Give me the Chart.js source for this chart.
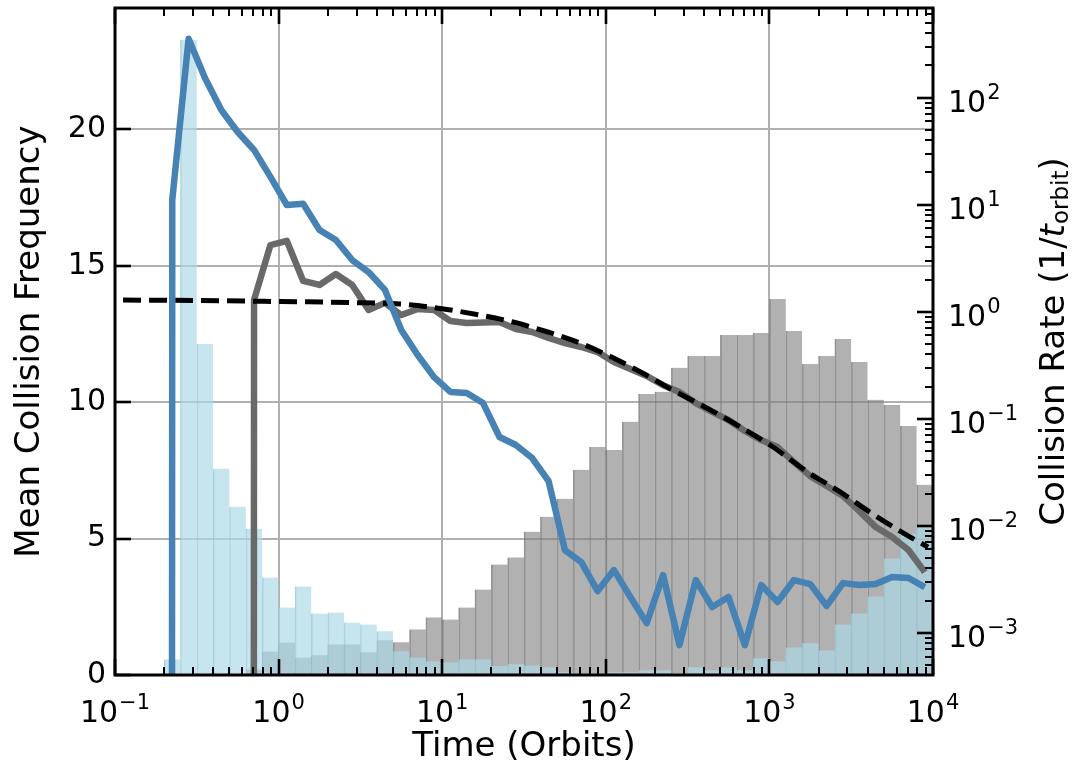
<!DOCTYPE html>
<html><head><meta charset="utf-8">
<script src="https://cdn.jsdelivr.net/npm/chart.js@4.4.0/dist/chart.umd.min.js"></script>
<style>html,body{margin:0;padding:0;background:#fff;}#wrap{width:1078px;height:774px;}</style>
</head><body><div id="wrap"><canvas id="c" width="1078" height="774"></canvas></div>
<script>
// Bin centres (time in orbits) of 0.1-dex logarithmic bins
const binCenters = [0.1778, 0.2239, 0.2818, 0.3548, 0.4467, 0.5623, 0.7079, 0.8913, 1.122, 1.413, 1.778, 2.239, 2.818, 3.548, 4.467, 5.623, 7.079, 8.913, 11.22, 14.13, 17.78, 22.39, 28.18, 35.48, 44.67, 56.23, 70.79, 89.13, 112.2, 141.3, 177.8, 223.9, 281.8, 354.8, 446.7, 562.3, 707.9, 891.3, 1122, 1413, 1778, 2239, 2818, 3548, 4467, 5623, 7079, 8913];
// Mean collision frequency histograms (left axis)
const histBlue = [0, 0.57, 23.29, 12.13, 7.56, 6.17, 5.36, 3.57, 2.47, 3.24, 2.25, 2.29, 1.92, 1.85, 1.60, 0.87, 0.64, 0.50, 0.46, 0.57, 0.57, 0.33, 0.39, 0.35, 0.28, 0.10, 0.06, 0.06, 0.10, 0.10, 0.17, 0.17, 0.06, 0.28, 0.17, 0.28, 0.17, 0.61, 0.50, 1.01, 1.16, 0.90, 1.85, 2.25, 2.88, 4.27, 5.18, 5.47];
const histGrey = [0, 0, 0, 0, 0, 0, 0.2, 0.86, 1.19, 0.64, 0.72, 1.12, 1.12, 0.83, 1.27, 1.20, 1.67, 2.11, 2.03, 2.47, 3.13, 4.05, 4.31, 5.25, 5.80, 6.46, 7.52, 8.36, 8.25, 9.28, 10.30, 10.38, 11.26, 11.69, 11.69, 12.46, 12.46, 12.54, 13.78, 12.61, 11.40, 11.69, 12.32, 11.47, 10.09, 9.90, 9.13, 6.97];
// Collision rates (right axis)
const rateBlue = [0, 11.1, 355, 153, 76.7, 47.8, 32.5, 18.2, 9.94, 10.2, 5.80, 4.68, 3.04, 2.35, 1.60, 0.675, 0.394, 0.245, 0.178, 0.174, 0.140, 0.0675, 0.0568, 0.0429, 0.0262, 0.00593, 0.00458, 0.00245, 0.00385, 0.00216, 0.00123, 0.00346, 0.000767, 0.00311, 0.00174, 0.00216, 0.000767, 0.00279, 0.00194, 0.00311, 0.00285, 0.00178, 0.00291, 0.00279, 0.00285, 0.00332, 0.00325, 0.00267];
const rateGrey = [0, 0, 0, 0, 0, 0, 1.29, 4.20, 4.60, 1.94, 1.78, 2.25, 1.78, 1.04, 1.21, 0.931, 1.06, 1.04, 0.819, 0.784, 0.793, 0.801, 0.689, 0.646, 0.568, 0.510, 0.468, 0.420, 0.339, 0.292, 0.251, 0.206, 0.178, 0.140, 0.116, 0.0973, 0.0768, 0.0632, 0.0544, 0.0394, 0.0291, 0.0235, 0.0190, 0.0137, 0.00972, 0.00784, 0.00593, 0.00369];
// Model curve (dashed)
const modelTime = [0.112, 0.331, 1.02, 2.75, 5.52, 8.41, 17.0, 27.1, 43.7, 69.5, 102, 162, 257, 414, 661, 1047, 1700, 2690, 4270, 6920, 9330];
const modelRate = [1.286, 1.273, 1.245, 1.219, 1.180, 1.106, 0.931, 0.801, 0.650, 0.510, 0.394, 0.275, 0.185, 0.126, 0.0841, 0.0547, 0.0320, 0.0208, 0.0129, 0.00818, 0.00632];
// Tick values / labels (log labels are "10" with an exponent)
const xTickValues = [0.1, 1, 10, 100, 1000, 10000];
const xTickExponents = ['\u22121', '0', '1', '2', '3', '4'];
const yTickValues = [0, 5, 10, 15, 20];
const yTickLabels = ['0', '5', '10', '15', '20'];
const y2TickValues = [0.001, 0.01, 0.1, 1, 10, 100];
const y2TickExponents = ['\u22123', '\u22122', '\u22121', '0', '1', '2'];

const FONT = "'DejaVu Sans', sans-serif";
const TICK = 30, SUP = 21, TITLE = 34;
// log axis: non-positive values are clipped to a tiny positive number (as matplotlib does)
const clipPos = v => (v > 0 ? v : 1e-300);
const pts = (xs, ys, f) => xs.map((t, i) => ({x: t, y: f ? f(ys[i]) : ys[i]}));

function powLabel(ctx, base, exp, x, yBase, align) {
  ctx.font = TICK + 'px ' + FONT;
  const wb = ctx.measureText(base).width;
  ctx.font = SUP + 'px ' + FONT;
  const we = ctx.measureText(exp).width;
  const w = wb + we + 1;
  let x0 = align === 'center' ? x - w / 2 : x;
  ctx.textAlign = 'left';
  ctx.textBaseline = 'alphabetic';
  ctx.font = TICK + 'px ' + FONT;
  ctx.fillText(base, x0, yBase);
  ctx.font = SUP + 'px ' + FONT;
  ctx.fillText(exp, x0 + wb + 1, yBase - 0.43 * TICK);
}

const decor = {
  id: 'decor',
  afterDraw(chart) {
    const {ctx, chartArea: a, scales} = chart;
    const x = scales.x, y = scales.y, y2 = scales.y2;
    ctx.save();
    ctx.strokeStyle = '#000';
    const seg = (x1, y1, x2, y2_, w) => { ctx.lineWidth = w; ctx.beginPath(); ctx.moveTo(x1, y1); ctx.lineTo(x2, y2_); ctx.stroke(); };
    for (let e = -1; e <= 4; e++) for (let m = 1; m <= 9; m++) {
      const v = m * Math.pow(10, e);
      if (v < x.min * 0.999 || v > x.max * 1.001) continue;
      const p = Math.round(x.getPixelForValue(v));
      const L = m === 1 ? 16 : 8, w = m === 1 ? 2.6 : 2;
      seg(p, a.bottom, p, a.bottom - L, w);
      seg(p, a.top, p, a.top + L, w);
    }
    yTickValues.forEach(v => { const p = Math.round(y.getPixelForValue(v)); seg(a.left, p, a.left + 16, p, 2.6); });
    for (let e = -4; e <= 2; e++) for (let m = 1; m <= 9; m++) {
      const v = m * Math.pow(10, e);
      if (v < y2.min || v > y2.max) continue;
      const p = Math.round(y2.getPixelForValue(v));
      const L = m === 1 ? 16 : 8, w = m === 1 ? 2.6 : 2;
      seg(a.right, p, a.right - L, p, w);
    }
    ctx.lineWidth = 3;
    ctx.strokeRect(a.left, a.top, a.right - a.left, a.bottom - a.top);
    ctx.fillStyle = '#000';
    // log tick labels
    xTickValues.forEach((v, i) => powLabel(ctx, '10', xTickExponents[i], x.getPixelForValue(v), a.bottom + 47, 'center'));
    y2TickValues.forEach((v, i) => powLabel(ctx, '10', y2TickExponents[i], a.right + 15, y2.getPixelForValue(v) + 14, 'left'));
    // axis titles
    ctx.textAlign = 'center';
    ctx.textBaseline = 'middle';
    ctx.font = TITLE + 'px ' + FONT;
    ctx.fillText('Time (Orbits)', (a.left + a.right) / 2, 747);
    const cy = (a.top + a.bottom) / 2;
    ctx.save();
    ctx.translate(30, cy); ctx.rotate(-Math.PI / 2);
    ctx.fillText('Mean Collision Frequency', 0, 0);
    ctx.restore();
    ctx.save();
    ctx.translate(1055, cy); ctx.rotate(-Math.PI / 2);
    const parts = [
      {t: 'Collision Rate (1/', f: TITLE + 'px ' + FONT, dy: 0},
      {t: 't', f: 'italic ' + TITLE + 'px ' + FONT, dy: 0},
      {t: 'orbit', f: '23px ' + FONT, dy: 7},
      {t: ')', f: TITLE + 'px ' + FONT, dy: 0}
    ];
    let total = 0;
    parts.forEach(p => { ctx.font = p.f; p.w = ctx.measureText(p.t).width; total += p.w; });
    let cx = -total / 2;
    ctx.textAlign = 'left';
    parts.forEach(p => { ctx.font = p.f; ctx.fillText(p.t, cx, p.dy); cx += p.w; });
    ctx.restore();
    ctx.restore();
  }
};

const gridStyle = {color: '#b0b0b0', lineWidth: 2, drawTicks: false};
const noPad = s => { s.paddingLeft = 0; s.paddingRight = 0; s.paddingTop = 0; s.paddingBottom = 0; };

new Chart(document.getElementById('c'), {
  type: 'line',
  data: {
    datasets: [
      {type: 'line', label: 'rate (blue)', data: pts(binCenters, rateBlue, clipPos), yAxisID: 'y2', borderColor: '#4682b4', borderWidth: 6.5, pointRadius: 0, borderJoinStyle: 'round', order: 1},
      {type: 'line', label: 'model', data: pts(modelTime, modelRate), yAxisID: 'y2', borderColor: '#000', borderWidth: 5, borderDash: [18, 8], pointRadius: 0, cubicInterpolationMode: 'monotone', order: 2},
      {type: 'line', label: 'rate (grey)', data: pts(binCenters, rateGrey, clipPos), yAxisID: 'y2', borderColor: '#696969', borderWidth: 6.5, pointRadius: 0, borderJoinStyle: 'round', order: 3},
      {type: 'bar', label: 'freq (blue)', data: pts(binCenters, histBlue), yAxisID: 'y', grouped: false, categoryPercentage: 1, barPercentage: 1, backgroundColor: 'rgba(173,216,230,0.68)', borderColor: 'rgba(150,200,212,0.8)', borderWidth: {left: 1, right: 0, top: 0, bottom: 0}, borderSkipped: false, order: 9},
      {type: 'bar', label: 'freq (grey)', data: pts(binCenters, histGrey), yAxisID: 'y', grouped: false, categoryPercentage: 1, barPercentage: 1, backgroundColor: 'rgba(128,128,128,0.61)', borderColor: 'rgba(120,120,120,0.75)', borderWidth: {left: 1, right: 0, top: 0, bottom: 0}, borderSkipped: false, order: 10}
    ]
  },
  options: {
    responsive: false, animation: false, devicePixelRatio: 1,
    layout: {padding: {top: 8, left: 0, right: 0, bottom: 0}},
    plugins: {legend: {display: false}, tooltip: {enabled: false}},
    scales: {
      x: {
        type: 'logarithmic', position: 'bottom', min: 0.1, max: 10000, offset: false,
        grid: Object.assign({offset: false}, gridStyle), border: {display: false},
        afterBuildTicks: s => { s.ticks = xTickValues.map(v => ({value: v})); },
        afterFit: s => { s.height = 99; noPad(s); },
        ticks: {display: false, autoSkip: false}
      },
      y: {
        type: 'linear', position: 'left', min: 0, max: 24.45,
        grid: gridStyle, border: {display: false},
        afterBuildTicks: s => { s.ticks = yTickValues.map(v => ({value: v})); },
        afterFit: s => { s.width = 115; noPad(s); },
        ticks: {padding: 9, color: '#000', font: {family: FONT, size: TICK}, callback: (v, i) => yTickLabels[i]}
      },
      y2: {
        type: 'logarithmic', position: 'right', min: 4.03e-4, max: 689,
        grid: {display: false, drawTicks: false}, border: {display: false},
        afterBuildTicks: s => { s.ticks = y2TickValues.map(v => ({value: v})); },
        afterFit: s => { s.width = 145; noPad(s); },
        ticks: {display: false}
      }
    }
  },
  plugins: [decor]
});
</script></body></html>
